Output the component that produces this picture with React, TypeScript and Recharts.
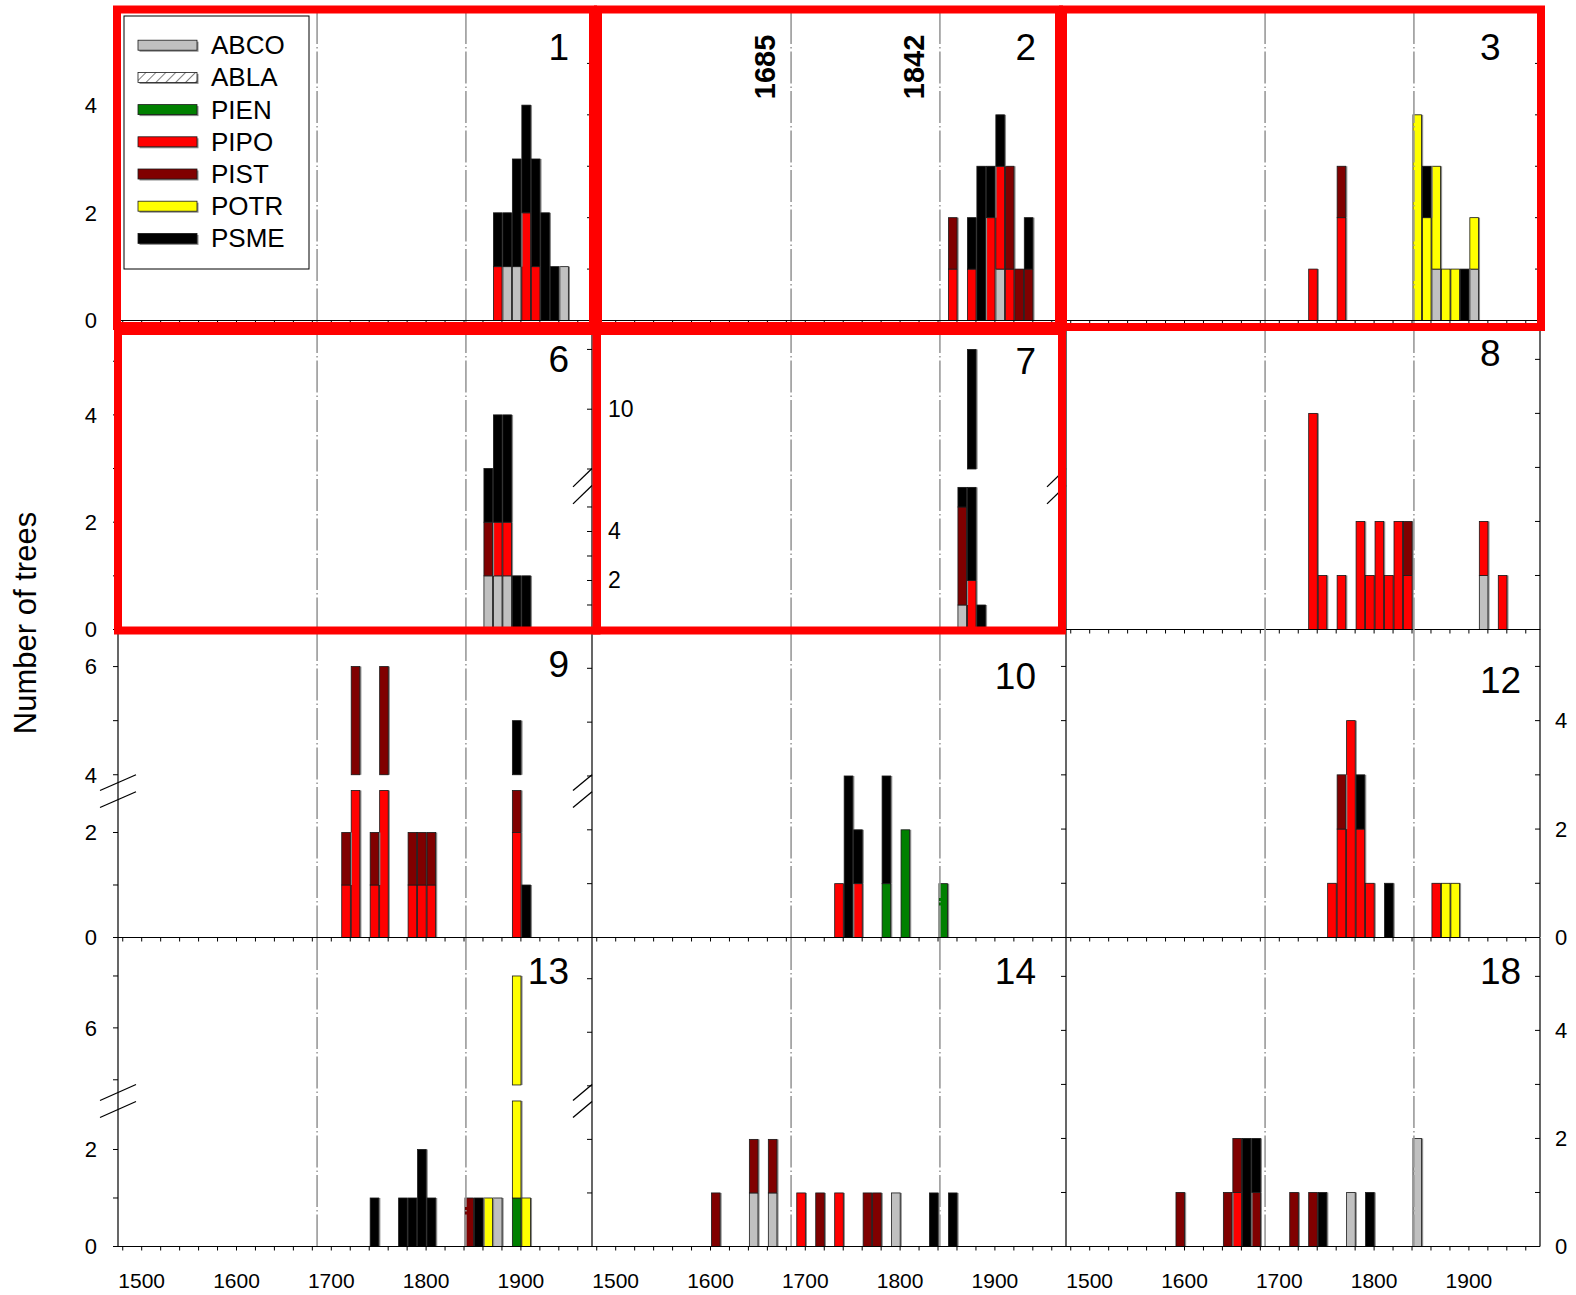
import React from 'react';
import { BarChart, Bar, XAxis, YAxis, ReferenceLine } from 'recharts';

const FONT = 'Arial, "Liberation Sans", sans-serif';

const SPECIES = ['ABCO', 'ABLA', 'PIEN', 'PIPO', 'PIST', 'POTR', 'PSME'];
const SPECIES_COLORS = ['#c0c0c0', 'url(#ablaHatch)', '#008000', '#ff0000', '#800000', '#ffff00', '#000000'];
const X_TICKS = [1480, 1500, 1520, 1540, 1560, 1580, 1600, 1620, 1640, 1660, 1680, 1700, 1720, 1740, 1760, 1780, 1800, 1820, 1840, 1860, 1880, 1900, 1920, 1940, 1960];
const MARK_YEARS = [1685, 1842];
const Y_TITLE = 'Number of trees';

type Row = { d: number; ABCO?: number; ABLA?: number; PIEN?: number; PIPO?: number; PIST?: number; POTR?: number; PSME?: number };

const PANEL_1: Row[] = [
  { d: 1870, PIPO: 1, PSME: 1 },
  { d: 1880, ABCO: 1, PSME: 1 },
  { d: 1890, ABCO: 1, PSME: 2 },
  { d: 1900, PIPO: 2, PSME: 2 },
  { d: 1910, PIPO: 1, PSME: 2 },
  { d: 1920, PSME: 2 },
  { d: 1930, PSME: 1 },
  { d: 1940, ABCO: 1 },
];
const PANEL_2: Row[] = [
  { d: 1850, PIPO: 1, PIST: 1 },
  { d: 1870, PIPO: 1, PSME: 1 },
  { d: 1880, PSME: 3 },
  { d: 1890, PIPO: 2, PSME: 1 },
  { d: 1900, ABCO: 1, PIPO: 2, PSME: 1 },
  { d: 1910, PIPO: 1, PIST: 2 },
  { d: 1920, PIST: 1 },
  { d: 1930, PIST: 1, PSME: 1 },
];
const PANEL_3: Row[] = [
  { d: 1730, PIPO: 1 },
  { d: 1760, PIPO: 2, PIST: 1 },
  { d: 1840, POTR: 4 },
  { d: 1850, POTR: 2, PSME: 1 },
  { d: 1860, ABCO: 1, POTR: 2 },
  { d: 1870, POTR: 1 },
  { d: 1880, POTR: 1 },
  { d: 1890, PSME: 1 },
  { d: 1900, ABCO: 1, POTR: 1 },
];
const PANEL_6: Row[] = [
  { d: 1860, ABCO: 1, PIST: 1, PSME: 1 },
  { d: 1870, ABCO: 1, PIPO: 1, PSME: 2 },
  { d: 1880, ABCO: 1, PIPO: 1, PSME: 2 },
  { d: 1890, PSME: 1 },
  { d: 1900, PSME: 1 },
];
const PANEL_7: Row[] = [
  { d: 1860, ABCO: 1, PIST: 4, PSME: 1 },
  { d: 1870, PIPO: 2, PSME: 10 },
  { d: 1880, PSME: 1 },
];
const PANEL_8: Row[] = [
  { d: 1730, PIPO: 4 },
  { d: 1740, PIPO: 1 },
  { d: 1760, PIPO: 1 },
  { d: 1780, PIPO: 2 },
  { d: 1790, PIPO: 1 },
  { d: 1800, PIPO: 2 },
  { d: 1810, PIPO: 1 },
  { d: 1820, PIPO: 2 },
  { d: 1830, PIPO: 1, PIST: 1 },
  { d: 1910, ABCO: 1, PIPO: 1 },
  { d: 1930, PIPO: 1 },
];
const PANEL_9: Row[] = [
  { d: 1710, PIPO: 1, PIST: 1 },
  { d: 1720, PIPO: 3, PIST: 3 },
  { d: 1740, PIPO: 1, PIST: 1 },
  { d: 1750, PIPO: 3, PIST: 3 },
  { d: 1780, PIPO: 1, PIST: 1 },
  { d: 1790, PIPO: 1, PIST: 1 },
  { d: 1800, PIPO: 1, PIST: 1 },
  { d: 1890, PIPO: 2, PIST: 1, PSME: 2 },
  { d: 1900, PSME: 1 },
];
const PANEL_10: Row[] = [
  { d: 1730, PIPO: 1 },
  { d: 1740, PSME: 3 },
  { d: 1750, PIPO: 1, PSME: 1 },
  { d: 1780, PIEN: 1, PSME: 2 },
  { d: 1800, PIEN: 2 },
  { d: 1840, PIEN: 1 },
];
const PANEL_12: Row[] = [
  { d: 1750, PIPO: 1 },
  { d: 1760, PIPO: 2, PIST: 1 },
  { d: 1770, PIPO: 4 },
  { d: 1780, PIPO: 2, PSME: 1 },
  { d: 1790, PIPO: 1 },
  { d: 1810, PSME: 1 },
  { d: 1860, PIPO: 1 },
  { d: 1870, POTR: 1 },
  { d: 1880, POTR: 1 },
];
const PANEL_13: Row[] = [
  { d: 1740, PSME: 1 },
  { d: 1770, PSME: 1 },
  { d: 1780, PSME: 1 },
  { d: 1790, PSME: 2 },
  { d: 1800, PSME: 1 },
  { d: 1840, PIST: 1 },
  { d: 1850, PSME: 1 },
  { d: 1860, POTR: 1 },
  { d: 1870, ABCO: 1 },
  { d: 1890, PIEN: 1, POTR: 6 },
  { d: 1900, POTR: 1 },
];
const PANEL_14: Row[] = [
  { d: 1600, PIST: 1 },
  { d: 1640, ABCO: 1, PIST: 1 },
  { d: 1660, ABCO: 1, PIST: 1 },
  { d: 1690, PIPO: 1 },
  { d: 1710, PIST: 1 },
  { d: 1730, PIPO: 1 },
  { d: 1760, PIST: 1 },
  { d: 1770, PIST: 1 },
  { d: 1790, ABCO: 1 },
  { d: 1830, PSME: 1 },
  { d: 1850, PSME: 1 },
];
const PANEL_18: Row[] = [
  { d: 1590, PIST: 1 },
  { d: 1640, PIST: 1 },
  { d: 1650, PIPO: 1, PIST: 1 },
  { d: 1660, PSME: 2 },
  { d: 1670, PIST: 1, PSME: 1 },
  { d: 1710, PIST: 1 },
  { d: 1730, PIST: 1 },
  { d: 1740, PSME: 1 },
  { d: 1770, ABCO: 1 },
  { d: 1790, PSME: 1 },
  { d: 1840, ABCO: 2 },
];

// layout
const M = 40;
const MB = 64; // bottom margin (room for year labels)
const AX = 30; // axis reserved size (taken out of the margin)
const PW = 474;
const PH = 308.5;
const COL_X = [118, 592, 1066];
const ROW_Y = [12, 320.5, 629, 937.5];
const X_DOMAIN: [number, number] = [1475, 1975];

type Brk = { lo: number; hi: number; gap: number; k: number };
type Panel = {
  id: string; data: Row[]; col: number; row: number; yMax: number; brk?: Brk;
  yTicks: number[]; yLabels: number[]; labelSide: 'left' | 'right' | 'inside' | 'none';
  numX: number; numY: number; numAnchor: 'start' | 'end';
};

const STD_TICKS = [0, 1, 2, 3, 4, 5];

const PANELS: Panel[] = [
  { id: '1', data: PANEL_1, col: 0, row: 0, yMax: 5.73, yTicks: STD_TICKS, yLabels: [0, 2, 4], labelSide: 'left', numX: 451, numY: 35, numAnchor: 'end' },
  { id: '2', data: PANEL_2, col: 1, row: 0, yMax: 6, yTicks: STD_TICKS, yLabels: [], labelSide: 'none', numX: 444, numY: 35, numAnchor: 'end' },
  { id: '3', data: PANEL_3, col: 2, row: 0, yMax: 6, yTicks: STD_TICKS, yLabels: [], labelSide: 'none', numX: 414, numY: 35, numAnchor: 'start' },
  { id: '6', data: PANEL_6, col: 0, row: 1, yMax: 5.75, yTicks: STD_TICKS, yLabels: [0, 2, 4], labelSide: 'left', numX: 451, numY: 39, numAnchor: 'end' },
  { id: '7', data: PANEL_7, col: 1, row: 1, yMax: 12.59, brk: { lo: 5.8, hi: 8, gap: 0.75, k: 1.22 }, yTicks: [1, 2, 3, 4, 5, 8, 10, 12], yLabels: [2, 4, 10], labelSide: 'inside', numX: 444, numY: 41, numAnchor: 'end' },
  { id: '8', data: PANEL_8, col: 2, row: 1, yMax: 5.71, yTicks: STD_TICKS, yLabels: [], labelSide: 'none', numX: 414, numY: 33, numAnchor: 'start' },
  { id: '9', data: PANEL_9, col: 0, row: 2, yMax: 5.876, brk: { lo: 2.8, hi: 4, gap: 0.3, k: 1.03 }, yTicks: [0, 1, 2, 4, 5, 6], yLabels: [0, 2, 4, 6], labelSide: 'left', numX: 451, numY: 35.5, numAnchor: 'end' },
  { id: '10', data: PANEL_10, col: 1, row: 2, yMax: 5.73, yTicks: STD_TICKS, yLabels: [], labelSide: 'none', numX: 444, numY: 47.5, numAnchor: 'end' },
  { id: '12', data: PANEL_12, col: 2, row: 2, yMax: 5.69, yTicks: STD_TICKS, yLabels: [0, 2, 4], labelSide: 'right', numX: 414, numY: 51.5, numAnchor: 'start' },
  { id: '13', data: PANEL_13, col: 0, row: 3, yMax: 6.36, brk: { lo: 3, hi: 4.9, gap: 0.33, k: 1.07 }, yTicks: [0, 1, 2, 5, 6, 7], yLabels: [0, 2, 6], labelSide: 'left', numX: 451, numY: 33.5, numAnchor: 'end' },
  { id: '14', data: PANEL_14, col: 1, row: 3, yMax: 5.76, yTicks: STD_TICKS, yLabels: [], labelSide: 'none', numX: 444, numY: 33.5, numAnchor: 'end' },
  { id: '18', data: PANEL_18, col: 2, row: 3, yMax: 5.71, yTicks: STD_TICKS, yLabels: [0, 2, 4], labelSide: 'right', numX: 414, numY: 33.5, numAnchor: 'start' },
];

function disp(v: number, b?: Brk): number {
  if (!b) return v;
  if (v <= b.lo) return v;
  if (v >= b.hi) return b.lo + b.gap + (v - b.hi) * b.k;
  return b.lo + (b.gap * (v - b.lo)) / (b.hi - b.lo);
}

function buildTable(p: Panel) {
  return p.data.map((r) => {
    const out: Record<string, number> = { mid: r.d + 6, decade: r.d };
    let cum = 0;
    let prev = 0;
    SPECIES.forEach((s) => {
      const v = ((r as any)[s] as number) || 0;
      cum += v;
      const dc = disp(cum, p.brk);
      out[s] = dc - prev;
      prev = dc;
    });
    return out;
  });
}

function makeShape(p: Panel) {
  return (props: any) => {
    const { x, y, width, height, fill } = props;
    if (!(height > 0.01) || !(width > 0)) return <g />;
    let pieces: [number, number][] = [[y, y + height]];
    if (p.brk) {
      const gTop = M + PH * (1 - (p.brk.lo + p.brk.gap) / p.yMax);
      const gBot = M + PH * (1 - p.brk.lo / p.yMax);
      pieces = [];
      const top = y;
      const bot = y + height;
      if (top < gTop) pieces.push([top, Math.min(bot, gTop)]);
      if (bot > gBot) pieces.push([Math.max(top, gBot), bot]);
    }
    return (
      <g>
        {pieces.map(([a, b], i) => (
          <g key={i}>
            <rect x={x + 1.6} y={a} width={width} height={b - a} fill="#8a8a8a" />
            <rect x={x} y={a} width={width} height={b - a} fill={fill} stroke="#1a1a1a" strokeWidth={0.8} />
          </g>
        ))}
      </g>
    );
  };
}

function PanelChart({ p }: { p: Panel }) {
  const table = buildTable(p);
  const bottom = p.row === 3;
  const tickDisp = p.yTicks.map((t) => disp(t, p.brk));
  const fmt = (v: number) => {
    const i = tickDisp.findIndex((t) => Math.abs(t - v) < 1e-6);
    if (i < 0) return '';
    const real = p.yTicks[i];
    return p.yLabels.includes(real) ? String(real) : '';
  };
  const shape = makeShape(p);
  const tickStyle = { fontSize: 21, fill: '#000', fontFamily: FONT };
  const yTickStyle = { fontSize: 22, fill: '#000', fontFamily: FONT };
  const insideTick = (tp: any) => {
    const label = fmt(tp.payload.value);
    return (
      <text x={tp.x + 5 + 16 + 16} y={tp.y} textAnchor="start" dominantBaseline="central" fontSize={23} fontFamily={FONT} fill="#000">
        {label}
      </text>
    );
  };
  const hasRight = p.col === 2;
  return (
    <div style={{ position: 'absolute', left: COL_X[p.col] - M, top: ROW_Y[p.row] - M }}>
      <BarChart
        width={PW + 2 * M}
        height={PH + M + MB}
        data={table}
        margin={{ top: M, right: hasRight ? M - AX : M, bottom: MB - AX, left: M - AX }}
        barGap={0}
        barCategoryGap={0}
      >
        <XAxis
          type="number"
          dataKey="mid"
          domain={X_DOMAIN}
          allowDataOverflow
          ticks={X_TICKS}
          interval={0}
          height={AX}
          tickSize={4}
          tickMargin={23}
          tickFormatter={(v: number) => (bottom && v % 100 === 0 ? String(v) : '')}
          axisLine={{ stroke: '#000', strokeWidth: 1.2 }}
          tickLine={{ stroke: '#000' }}
          tick={tickStyle}
        />
        <YAxis
          yAxisId="l"
          orientation="left"
          type="number"
          domain={[0, p.yMax]}
          allowDataOverflow
          ticks={tickDisp}
          interval={0}
          width={AX}
          tickSize={5}
          tickMargin={16}
          tickFormatter={p.labelSide === 'left' ? fmt : () => ''}
          axisLine={{ stroke: '#000', strokeWidth: 1.2 }}
          tickLine={{ stroke: '#000' }}
          tick={p.labelSide === 'inside' ? insideTick : yTickStyle}
        />
        {hasRight && (
          <YAxis
            yAxisId="r"
            orientation="right"
            type="number"
            domain={[0, p.yMax]}
            allowDataOverflow
            ticks={tickDisp}
            interval={0}
            width={AX}
            tickSize={-5}
            tickMargin={20}
            tickFormatter={p.labelSide === 'right' ? fmt : () => ''}
            axisLine={{ stroke: '#000', strokeWidth: 1.2 }}
            tickLine={{ stroke: '#000' }}
            tick={yTickStyle}
          />
        )}
        {SPECIES.map((s, i) => (
          <Bar
            key={s}
            dataKey={s}
            stackId="a"
            yAxisId="l"
            fill={SPECIES_COLORS[i]}
            barSize={8.6}
            isAnimationActive={false}
            shape={shape}
          />
        ))}
        {MARK_YEARS.map((yr) => (
          <ReferenceLine
            key={yr}
            x={yr}
            yAxisId="l"
            stroke="#9a9a9a"
            strokeWidth={1.6}
            strokeDasharray="32 3 1.5 3"
          />
        ))}
      </BarChart>
    </div>
  );
}

const RED_BOXES: [number, number, number, number][] = [
  [117, 9.5, 593, 326],
  [598, 9.5, 1059, 326],
  [1063, 9.5, 1541, 327],
  [118, 331, 596.5, 630.5],
  [597, 331, 1062, 630.5],
];

function xPix(col: number, year: number) {
  return COL_X[col] + ((year - X_DOMAIN[0]) / (X_DOMAIN[1] - X_DOMAIN[0])) * PW;
}

function breakMarks(p: Panel) {
  if (!p.brk) return null;
  const top = ROW_Y[p.row];
  const gTop = top + PH * (1 - (p.brk.lo + p.brk.gap) / p.yMax);
  const gBot = top + PH * (1 - p.brk.lo / p.yMax);
  const leftX = COL_X[p.col];
  const rightX = COL_X[p.col] + PW;
  const els: React.ReactNode[] = [];
  const pair = (xa: number, xb: number, key: string) => {
    [0, 17].forEach((off, j) => {
      els.push(<line key={key + j} x1={xa} y1={gBot + off} x2={xb} y2={gTop + off} stroke="#000" strokeWidth={1.3} />);
    });
  };
  if (p.col === 0) pair(leftX - 18, leftX + 18, p.id + 'l');
  else pair(leftX - 19, leftX, p.id + 'l');
  pair(rightX - 19, rightX, p.id + 'r');
  return els;
}

export default function App() {
  return (
    <div style={{ position: 'absolute', left: 0, top: 0, width: 1576, height: 1295, background: '#fff', fontFamily: FONT }}>
      {PANELS.map((p) => (
        <PanelChart key={p.id} p={p} />
      ))}
      <svg width={1576} height={1295} style={{ position: 'absolute', left: 0, top: 0, pointerEvents: 'none' }}>
        <defs>
          <pattern id="ablaHatch" width="7" height="7" patternUnits="userSpaceOnUse" patternTransform="rotate(45)">
            <rect width="7" height="7" fill="#fff" />
            <line x1="0" y1="0" x2="0" y2="7" stroke="#000" strokeWidth="1" />
          </pattern>
        </defs>
        <text transform="translate(25,623) rotate(-90)" textAnchor="middle" dominantBaseline="central" fontSize={31} fontFamily={FONT} fill="#000">
          {Y_TITLE}
        </text>
        {PANELS.map((p) => (
          <text key={'n' + p.id} x={COL_X[p.col] + p.numX} y={ROW_Y[p.row] + p.numY} textAnchor={p.numAnchor} dominantBaseline="central" fontSize={37} fontFamily={FONT} fill="#000">
            {p.id}
          </text>
        ))}
        {MARK_YEARS.map((yr) => (
          <text key={'m' + yr} transform={`translate(${xPix(1, yr) - 26},67) rotate(-90)`} textAnchor="middle" dominantBaseline="central" fontSize={29} fontWeight="bold" fontFamily={FONT} fill="#000">
            {yr}
          </text>
        ))}
        {PANELS.map((p) => (
          <g key={'b' + p.id}>{breakMarks(p)}</g>
        ))}
        <g>
          <rect x={124} y={16} width={185} height={253} fill="#fff" stroke="#000" strokeWidth={1} />
          {SPECIES.map((s, i) => {
            const cy = 45.2 + i * 32.2;
            return (
              <g key={'lg' + s}>
                <rect x={139.5} y={cy - 3.5} width={59} height={10} fill="#8a8a8a" />
                <rect x={138} y={cy - 5} width={59} height={10} fill={SPECIES_COLORS[i]} stroke="#1a1a1a" strokeWidth={0.8} />
                <text x={211} y={cy} dominantBaseline="central" fontSize={26} fontFamily={FONT} fill="#000">
                  {s}
                </text>
              </g>
            );
          })}
        </g>
        {RED_BOXES.map(([x1, y1, x2, y2], i) => (
          <rect key={'r' + i} x={x1} y={y1} width={x2 - x1} height={y2 - y1} fill="none" stroke="#ff0000" strokeWidth={8} />
        ))}
      </svg>
    </div>
  );
}
